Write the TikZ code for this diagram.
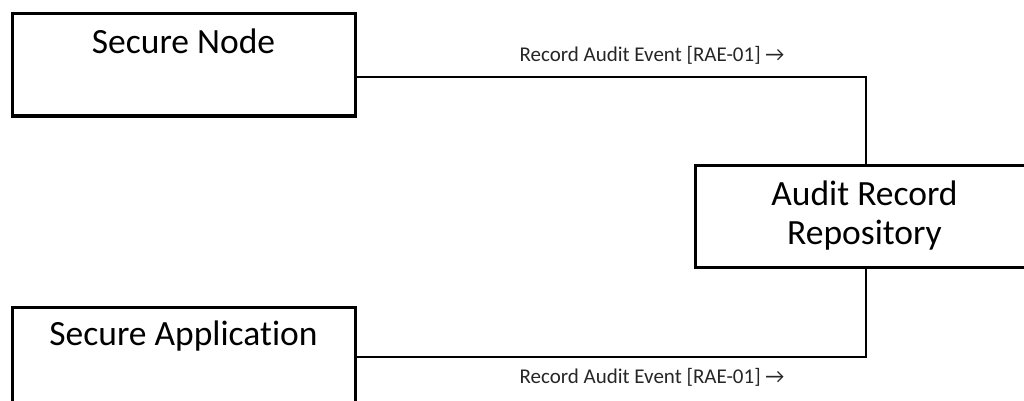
\documentclass[tikz,border=0pt]{standalone}
\usepackage{fontspec}
\setmainfont{Carlito}[Ligatures=NoCommon]
\usepackage{tikz}

\tikzset{
  unitbox/.style={draw=black, line width=3pt, inner sep=0pt},
  boxtext/.style={font=\fontsize{35.5}{39}\selectfont, inner sep=0pt, align=center},
  edgelbl/.style={font=\fontsize{21}{24}\selectfont, inner sep=0pt, text=black!85, anchor=base},
  conn/.style={line width=2pt}
}

\begin{document}
\begin{tikzpicture}[x=1pt, y=-1pt]
  \useasboundingbox (0,0) rectangle (1024,401);
  \node[unitbox, minimum width=343pt, minimum height=102pt] (sn) at (183.5,65) {};
  \node[unitbox, minimum width=343pt, minimum height=123pt] (sa) at (183.5,368.5) {};
  \node[unitbox, minimum width=339pt, minimum height=102pt] (arr) at (864.5,216) {};
  \node[boxtext, anchor=base] (snt) at ([yshift=-41pt]sn.north) {Secure Node};
  \node[boxtext, anchor=base] (sat) at ([yshift=-40pt]sa.north) {Secure Application};
  \node[boxtext] (arrt) at (arr.center) {Audit Record\\Repository};
  \coordinate (j1) at (866,77);
  \coordinate (j2) at (866,357);
  \draw[conn] (sn.east |- j1) -- node[edgelbl, pos=.58, yshift=15pt] (l1) {Record Audit Event [RAE-01] →} (j1) -- (arr.north -| j1);
  \draw[conn] (sa.east |- j2) -- node[edgelbl, pos=.58, yshift=-26pt] (l2) {Record Audit Event [RAE-01] →} (j2) -- (arr.south -| j2);
\end{tikzpicture}
\end{document}
